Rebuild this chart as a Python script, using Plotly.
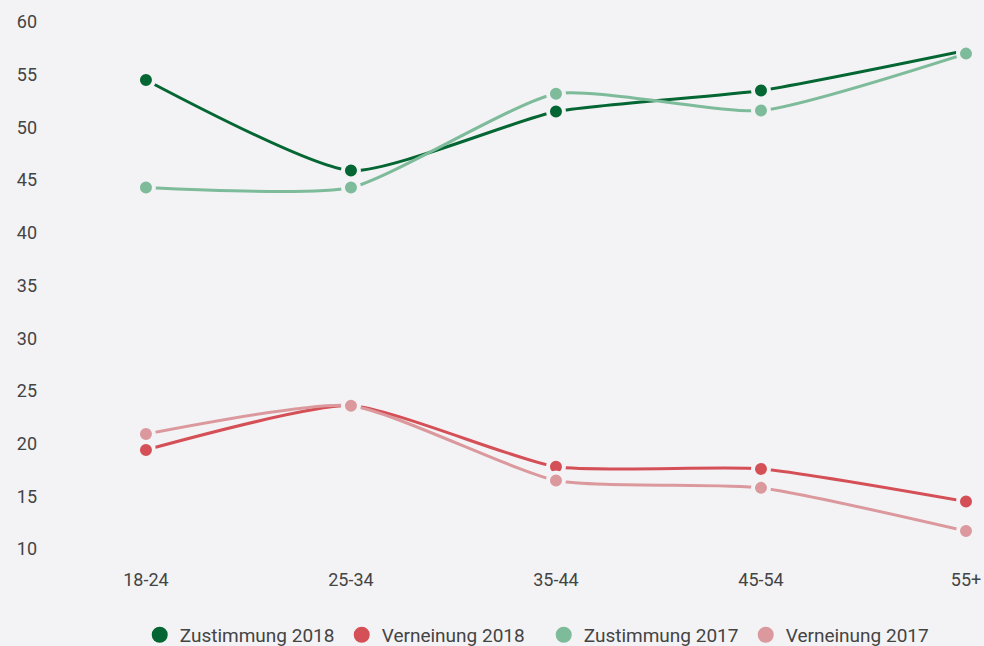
import plotly.graph_objects as go

categories = ["18-24", "25-34", "35-44", "45-54", "55+"]
zustimmung_2018 = [54.5, 45.9, 51.5, 53.5, 57.3]
verneinung_2018 = [19.4, 23.6, 17.8, 17.6, 14.5]
zustimmung_2017 = [44.3, 44.3, 53.2, 51.6, 57.0]
verneinung_2017 = [20.9, 23.6, 16.5, 15.8, 11.7]
y_ticks = [10, 15, 20, 25, 30, 35, 40, 45, 50, 55, 60]

series = [
    ("Zustimmung 2018", zustimmung_2018, "#046632"),
    ("Verneinung 2018", verneinung_2018, "#d44f56"),
    ("Zustimmung 2017", zustimmung_2017, "#7dbb9b"),
    ("Verneinung 2017", verneinung_2017, "#db999d"),
]

BG = "#f3f3f5"
FONT = "Roboto"
TXT = "#444444"

xs = list(range(len(categories)))
fig = go.Figure()
for name, vals, col in series:
    fig.add_trace(go.Scatter(
        x=xs, y=vals, mode="lines+markers", name=name, showlegend=False,
        line=dict(color=col, width=3, shape="spline", smoothing=0.55),
        marker=dict(color=col, size=16, line=dict(color=BG, width=4)),
        cliponaxis=False, hoverinfo="x+y+name",
    ))
for name, vals, col in series:
    fig.add_trace(go.Scatter(
        x=[None], y=[None], mode="markers", name=name, showlegend=True,
        marker=dict(color=col, size=22),
    ))

fig.update_layout(
    width=984, height=646,
    paper_bgcolor=BG, plot_bgcolor=BG,
    margin=dict(l=50, r=18, t=22, b=97, autoexpand=False),
    font=dict(family=FONT, size=18, color=TXT),
    xaxis=dict(
        range=[-0.468, 4.0], tickmode="array", tickvals=xs, ticktext=categories,
        showgrid=False, zeroline=False, showline=False, ticks="",
        tickfont=dict(size=18), ticklabelstandoff=18,
    ),
    yaxis=dict(
        range=[10, 60], tickmode="array", tickvals=y_ticks,
        showgrid=False, zeroline=False, showline=False, ticks="",
        tickfont=dict(size=18), ticklabelstandoff=12,
    ),
    legend=dict(
        orientation="h", x=0.539, xanchor="center", y=-0.163, yanchor="middle",
        font=dict(size=19, color=TXT), bgcolor="rgba(0,0,0,0)",
        itemsizing="trace", entrywidth=157,
    ),
    showlegend=True,
)

fig.write_html(
    "out.html",
    config={"displayModeBar": False},
    post_script="document.body.style.margin='0';document.body.style.padding='0';",
)
